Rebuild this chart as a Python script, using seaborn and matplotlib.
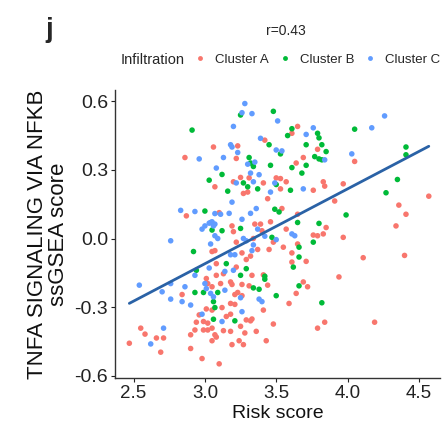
import numpy as np
import pandas as pd
import seaborn as sns
import matplotlib.pyplot as plt

# Cluster A (red)
a_x = [3.65,3.61,3.42,3.06,3.23,3.22,3.69,3.64,3.50,3.53,3.25,3.31,3.79,3.20,3.41,3.57,3.83,
       2.86,4.05,3.97,2.87,3.10,3.05,
       3.76,3.84,3.27,3.30,3.07,3.53,3.44,3.54,3.65,3.85,3.46,3.35,3.39,3.19,3.40,3.20,3.57,3.76,3.79,3.83,
       3.34,3.48,3.22,3.55,3.65,3.37,3.45,3.26,3.61,3.07,3.29,3.32,3.71,3.61,3.08,3.22,3.13,3.08,
       4.57,3.91,4.36,4.41,4.34,3.97,4.11,4.40,3.94,
       2.84,3.01,3.02,3.01,3.05,2.96,2.99,3.02,2.94,2.55,2.58,2.66,2.71,2.47,2.69,2.90,2.93,2.99,3.02,2.90,2.98,3.07,
       3.33,3.41,3.05,3.11,3.18,3.19,3.26,3.31,3.44,3.69,3.72,3.64,3.59,3.21,3.23,3.26,3.18,3.21,3.12,3.41,
       3.18,3.15,3.29,3.32,3.33,3.48,3.84,3.79,3.05,3.13,3.18,3.25,3.28,3.36,3.08,3.05,3.19,3.24,3.27,3.43,3.10,
       4.19]
a_y = [0.49,0.46,0.43,0.40,0.405,0.35,0.354,0.33,0.265,0.262,0.267,0.265,0.39,0.248,0.243,0.248,0.248,
       0.354,0.337,0.239,0.099,0.113,-0.057,
       0.211,0.229,0.197,0.203,0.226,0.217,0.174,0.131,0.106,0.048,0.073,0.063,0.063,0.055,0.034,0.03,0.041,0.015,0.012,0.02,
       0.0,-0.016,-0.016,-0.038,-0.024,-0.048,-0.048,-0.063,-0.063,-0.053,-0.092,-0.077,-0.10,-0.103,-0.11,-0.125,-0.154,-0.161,
       0.185,0.164,0.146,0.106,0.055,0.005,-0.084,-0.074,-0.168,
       -0.245,-0.175,-0.197,-0.308,-0.313,-0.334,-0.363,-0.37,-0.366,-0.392,-0.418,-0.435,-0.435,-0.458,-0.497,-0.421,-0.40,-0.40,-0.40,-0.481,-0.525,-0.421,
       -0.161,-0.159,-0.211,-0.197,-0.19,-0.201,-0.201,-0.207,-0.204,-0.19,-0.211,-0.24,-0.284,-0.245,-0.236,-0.25,-0.284,-0.288,-0.302,-0.313,
       -0.331,-0.341,-0.356,-0.36,-0.352,-0.374,-0.366,-0.392,-0.392,-0.403,-0.406,-0.384,-0.413,-0.406,-0.431,-0.447,-0.464,-0.447,-0.464,-0.447,-0.548,
       -0.366]

# Cluster B (green)
b_x = [3.25,3.48,3.61,3.58,3.79,3.80,3.45,3.71,3.85,3.53,3.31,3.32,3.34,3.46,3.77,3.80,3.82,3.71,3.61,3.12,3.68,3.27,
       2.91,3.03,4.05,3.82,4.41,4.41,4.35,
       3.00,3.05,2.92,2.94,
       3.30,3.16,3.37,3.60,3.50,3.49,3.52,3.65,3.80,3.25,3.12,3.76,3.47,3.66,3.66,3.15,3.62,3.29,3.42,
       4.27,3.99,
       2.93,2.99,3.09,3.06,3.07,3.06,
       3.25,3.42,3.34,3.38,3.66,3.50,3.82,3.21]
b_y = [0.54,0.556,0.48,0.45,0.46,0.44,0.41,0.41,0.38,0.37,0.354,0.33,0.315,0.32,0.358,0.348,0.344,0.32,0.31,0.28,0.286,0.243,
       0.474,0.255,0.478,0.41,0.40,0.366,0.258,
       0.12,0.037,-0.057,-0.139,
       0.226,0.207,0.217,0.211,0.236,0.128,0.116,0.07,0.066,0.044,0.034,-0.016,0.005,-0.038,-0.081,-0.11,-0.125,-0.132,-0.165,
       0.20,0.103,
       -0.236,-0.236,-0.236,-0.276,-0.302,-0.353,
       -0.161,-0.178,-0.216,-0.222,-0.207,-0.25,-0.281,-0.36]

# Cluster C (blue)
c_x = [3.28,3.26,3.33,3.51,3.20,3.76,3.71,3.39,3.18,3.19,3.23,3.50,3.54,3.13,3.30,3.35,3.84,3.08,3.32,3.38,3.22,3.34,3.49,
       2.96,4.26,4.17,4.03,
       2.83,2.93,3.07,2.98,3.00,3.03,3.05,3.07,3.07,3.09,2.76,3.04,3.03,2.93,
       3.69,3.46,3.19,3.36,3.32,3.11,3.17,3.26,3.37,3.04,3.06,3.61,3.63,3.42,3.50,3.27,3.29,3.34,3.18,3.21,3.33,3.20,
       2.54,2.76,2.70,2.86,2.76,2.84,2.90,3.00,3.01,3.04,3.06,2.98,2.71,2.62,
       3.14,3.14,3.25,3.38,3.40,3.26,3.12]
c_y = [0.59,0.55,0.546,0.514,0.49,0.484,0.455,0.438,0.41,0.40,0.376,0.387,0.383,0.354,0.325,0.334,0.344,0.308,0.286,0.279,0.243,0.248,0.243,
       0.348,0.536,0.484,0.37,
       0.123,0.118,0.109,0.041,0.055,0.067,0.073,0.063,0.012,0.0,-0.01,-0.024,-0.129,-0.161,
       0.217,0.203,0.159,0.131,0.11,0.106,0.11,0.084,0.041,0.07,0.055,0.02,0.012,0.01,-0.005,0.0,-0.01,-0.028,-0.071,-0.071,-0.053,-0.139,
       -0.204,-0.197,-0.233,-0.211,-0.265,-0.276,-0.291,-0.197,-0.219,-0.24,-0.255,-0.331,-0.392,-0.461,
       -0.144,-0.226,-0.259,-0.265,-0.276,-0.32,-0.363]

clusters = ["Cluster A", "Cluster B", "Cluster C"]
palette = ["#F8766D", "#00BA38", "#619CFF"]
xticks = [2.5, 3.0, 3.5, 4.0, 4.5]
yticks = [-0.6, -0.3, 0.0, 0.3, 0.6]

df = pd.DataFrame({
    "risk": a_x + b_x + c_x,
    "score": a_y + b_y + c_y,
    "cluster": [clusters[0]] * len(a_x) + [clusters[1]] * len(b_x) + [clusters[2]] * len(c_x),
})

sns.set_style("white")
plt.rcParams['font.family'] = ['Liberation Sans', 'DejaVu Sans']

fig = plt.figure(figsize=(4.46, 4.34), dpi=100)
ax = fig.add_axes([0.258, 0.129, 0.729, 0.664])

sns.scatterplot(data=df, x="risk", y="score", hue="cluster", palette=palette,
                hue_order=clusters, s=16, edgecolor="none", alpha=1.0, ax=ax, legend=False)
sns.regplot(data=df, x="risk", y="score", scatter=False, ci=None, color="#2a62a6",
            line_kws={"linewidth": 2}, ax=ax)

ax.set_xlim(2.37, 4.65)
ax.set_ylim(-0.61, 0.65)
ax.set_xticks(xticks)
ax.set_yticks(yticks)
ax.set_xticklabels([f"{t:.1f}" for t in xticks])
ax.set_yticklabels([f"{t:.1f}" for t in yticks])
ax.tick_params(axis="x", labelsize=13.5, colors="#222222", length=3, width=0.8, pad=2)
ax.tick_params(axis="y", labelsize=14, colors="#222222", length=3, width=0.8, pad=2)
ax.tick_params(axis="both", left=True, bottom=True, direction="out")
for side in ["top", "right"]:
    ax.spines[side].set_visible(False)
for side in ["left", "bottom"]:
    ax.spines[side].set_color("#333333")
    ax.spines[side].set_linewidth(1.0)
ax.set_xlabel("Risk score", fontsize=14, color="#111111", labelpad=2)
ax.set_ylabel("TNFA SIGNALING VIA NFKB\nssGSEA score", fontsize=16, color="#111111",
              labelpad=4, linespacing=1.0)

fig.text(0.11, 0.93, "j", fontsize=20, fontweight="bold", ha="center", va="center")
fig.text(0.64, 0.928, "r=0.43", fontsize=10, ha="center", va="center")

# legend row
fig.text(0.27, 0.862, "Infiltration", fontsize=10.5, ha="left", va="center")
handles = [plt.Line2D([], [], marker="o", linestyle="", markersize=3.5,
                      markerfacecolor=c, markeredgecolor="none") for c in palette]
fig.legend(handles, clusters, loc="center left", bbox_to_anchor=(0.41, 0.862), ncol=3,
           frameon=False, fontsize=9.5, handletextpad=0.75, columnspacing=0.8, handlelength=0.8)

fig.savefig("out.png", dpi=100)
